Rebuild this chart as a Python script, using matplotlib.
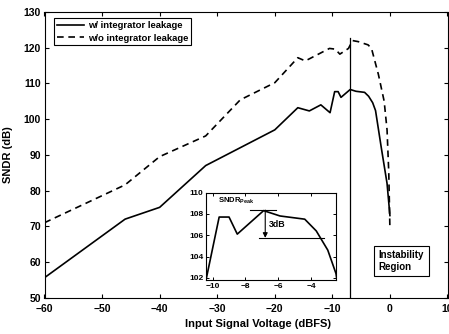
import matplotlib
matplotlib.use("Agg")
import matplotlib.pyplot as plt

plt.rcParams['font.family'] = ['Liberation Sans', 'DejaVu Sans']
plt.rcParams['font.weight'] = 'bold'
plt.rcParams['mathtext.fontset'] = 'custom'
plt.rcParams['mathtext.bf'] = 'Liberation Sans:bold'
plt.rcParams['mathtext.rm'] = 'Liberation Sans:bold'

# Data
x_leak = [-60, -46, -40, -32, -20, -16, -14, -12, -10.4, -9.6, -9.0, -8.5, -6.9,
          -5.9, -4.4, -3.7, -3.0, -2.5, -1.5, -1.0, -0.5, 0]
y_leak = [55.6, 72.0, 75.3, 87.0, 97.0, 103.2, 102.3, 104.0, 101.8, 107.7, 107.7, 106.1, 108.3,
          107.8, 107.5, 106.4, 104.6, 102.4, 92.0, 87.0, 82.0, 73.0]

x_noleak = [-60, -46, -40, -32, -26, -20, -16, -14.7, -10.5, -9.5, -8.7, -7.2, -6.5,
            -5.5, -3.8, -3.2, -2.0, -1.0, -0.5, -0.2, 0]
y_noleak = [71.0, 81.6, 89.5, 95.3, 105.4, 110.2, 117.2, 116.3, 119.8, 119.6, 118.2, 119.8, 122.0,
            121.7, 120.8, 119.8, 112.5, 105.0, 97.0, 85.0, 69.0]

x_ticks = [-60, -50, -40, -30, -20, -10, 0, 10]
y_ticks = [50, 60, 70, 80, 90, 100, 110, 120, 130]
inset_x_ticks = [-10, -8, -6, -4]
inset_y_ticks = [102, 104, 106, 108, 110]

peak_x = -7
peak_top = 122.8

fig = plt.figure(figsize=(4.49, 3.34), dpi=100)
ax = fig.add_axes([44.5/449, 1-297.7/334, (447.5-44.5)/449, (297.7-12)/334])

ax.plot(x_leak, y_leak, color='black', lw=1.2, label='w/ integrator leakage')
ax.plot(x_noleak, y_noleak, color='black', lw=1.2, linestyle=(0, (4, 2.8)),
        label='w/o integrator leakage')
ax.plot([peak_x, peak_x], [50, peak_top], color='black', lw=0.9)

ax.set_xlim(-60, 10)
ax.set_ylim(50, 130)
ax.set_xticks(x_ticks)
ax.set_yticks(y_ticks)
ax.tick_params(direction='in', top=True, right=True, length=3, width=0.8,
               labelsize=7.5, pad=2.5)
ax.tick_params(axis='x', pad=4.5)
for lab in ax.get_xticklabels() + ax.get_yticklabels():
    lab.set_fontweight('bold')
for s in ax.spines.values():
    s.set_linewidth(0.8)

ax.set_xlabel('Input Signal Voltage (dBFS)', fontsize=8, fontweight='bold')
ax.set_ylabel('SNDR (dB)', fontsize=8, fontweight='bold')
ax.xaxis.set_label_coords(0.529, -0.075)
ax.yaxis.set_label_coords(-0.077, 0.5)

leg = ax.legend(loc='upper left', bbox_to_anchor=(0.0236, 0.979), borderaxespad=0,
                fancybox=False, edgecolor='black', framealpha=1,
                handlelength=2.9, handletextpad=0.35, labelspacing=0.4,
                borderpad=0.3, prop={'weight': 'bold', 'size': 6.8})
leg.get_frame().set_linewidth(0.8)

ax.text(2.0, 60.3, 'Instability\nRegion', fontsize=7, fontweight='bold',
        ha='center', va='center', multialignment='left',
        bbox=dict(boxstyle='square,pad=0.45', fc='white', ec='black', lw=0.8))

# Inset
ins = fig.add_axes([206/449, 1-280/334, 130/449, (280-192.5)/334])
ins.plot(x_leak, y_leak, color='black', lw=1.2)
ins.set_xlim(-10.4, -2.5)
ins.set_ylim(101.8, 110)
ins.set_xticks(inset_x_ticks)
ins.set_yticks(inset_y_ticks)
ins.tick_params(direction='in', top=True, right=True, length=2, width=0.7,
                labelsize=6, pad=2)
for lab in ins.get_xticklabels() + ins.get_yticklabels():
    lab.set_fontweight('bold')
for s in ins.spines.values():
    s.set_linewidth(0.8)

ins.plot([-7.72, -6.13], [108.35, 108.35], color='black', lw=0.8)
ins.plot([-7.2, -3.2], [105.75, 105.75], color='black', lw=0.8)
ins.annotate('', xy=(-6.8, 105.75), xytext=(-6.8, 108.35),
             arrowprops=dict(arrowstyle='-|>', color='black', lw=0.8,
                             mutation_scale=7, shrinkA=0, shrinkB=0))
ins.text(-6.6, 106.75, '3dB', fontsize=6.3, fontweight='bold', va='baseline')
ins.text(-9.65, 109.05, r'$\mathbf{SNDR}_{\mathbf{Peak}}$', fontsize=5.5, va='baseline')

fig.savefig('out.png', dpi=100)
